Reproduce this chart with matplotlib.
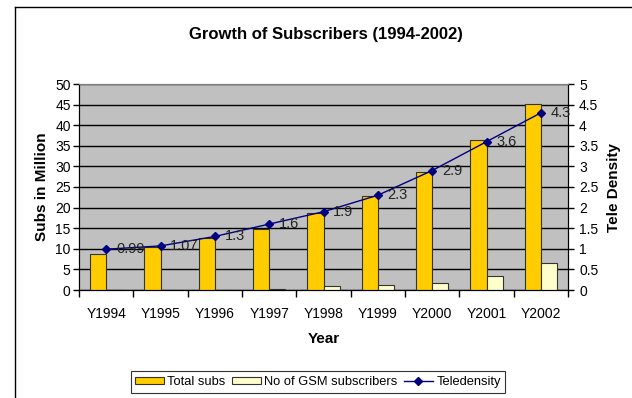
import numpy as np
import matplotlib.pyplot as plt
from matplotlib.lines import Line2D

plt.rcParams['font.family'] = ['Liberation Sans', 'DejaVu Sans']

years = ["Y1994", "Y1995", "Y1996", "Y1997", "Y1998", "Y1999", "Y2000", "Y2001", "Y2002"]
total_subs = [8.8, 10.4, 12.7, 14.9, 18.7, 22.9, 28.6, 36.3, 45.1]
gsm_subs = [0.0, 0.0, 0.0, 0.3, 0.9, 1.2, 1.8, 3.5, 6.5]
teledensity = [0.99, 1.07, 1.3, 1.6, 1.9, 2.3, 2.9, 3.6, 4.3]
tele_labels = ["0.99", "1.07", "1.3", "1.6", "1.9", "2.3", "2.9", "3.6", "4.3"]

fig = plt.figure(figsize=(6.32, 3.98), dpi=100)
ax = fig.add_axes([79/632, 1 - 290/398, (568-79)/632, (290-84)/398])
ax2 = ax.twinx()

x = np.arange(len(years))
w = 0.295
ax.set_facecolor("#C0C0C0")
ax.set_axisbelow(True)
ax.yaxis.grid(True, color="black", linewidth=1)
ax.bar(x, total_subs, width=-w, align="edge", color="#FFCC00", edgecolor="#333333",
       linewidth=0.8, label="Total subs", zorder=3)
ax.bar(x, gsm_subs, width=w, align="edge", color="#FFFFCC", edgecolor="#333333",
       linewidth=0.8, label="No of GSM subscribers", zorder=3)

ax2.plot(x, teledensity, color="#000080", marker="D", markersize=4.5, linewidth=1,
         label="Teledensity")
for xi, yi, lab in zip(x, teledensity, tele_labels):
    ax2.annotate(lab, (xi, yi), xytext=(7, 0), textcoords="offset points",
                 va="center", ha="left", fontsize=10.5, color="#222222")

ax.set_xlim(-0.5, len(years) - 0.5)
ax.set_ylim(0, 50)
ax2.set_ylim(0, 5)
ax.set_yticks(np.arange(0, 51, 5))
ax2.set_yticks(np.arange(0, 5.01, 0.5))
ax2.set_yticklabels(["0", "0.5", "1", "1.5", "2", "2.5", "3", "3.5", "4", "4.5", "5"])

ax.set_xticks(x)
ax.set_xticklabels(years, fontsize=10)
ax.tick_params(axis="x", length=0, pad=12)
ax.set_xticks(np.arange(-0.5, len(years), 1), minor=True)
ax.tick_params(axis="x", which="minor", length=5, width=1)
ax.tick_params(axis="y", labelsize=10, length=4, width=1, pad=2)
ax2.tick_params(axis="y", labelsize=10, length=4, width=1, pad=4)

for a in (ax, ax2):
    a.spines["top"].set_color("#808080")
    a.spines["left"].set_color("black")
    a.spines["right"].set_color("black")

ax.set_xlabel("Year", fontsize=11, fontweight="bold", labelpad=8)
ax.set_ylabel("Subs in Million", fontsize=11, fontweight="bold", labelpad=4)
ax2.set_ylabel("Tele Density", fontsize=11, fontweight="bold", labelpad=6)

fig.text(326/632, 1 - 35/398, "Growth of Subscribers (1994-2002)", ha="center",
         va="center", fontsize=12, fontweight="bold")

h1, l1 = ax.get_legend_handles_labels()
h2, l2 = ax2.get_legend_handles_labels()
leg = fig.legend(h1 + h2, l1 + l2, loc="center", bbox_to_anchor=(318/632, 1 - 382/398),
                 ncol=3, fontsize=9.3, frameon=True, fancybox=False, handlelength=2.2,
                 handleheight=0.55, handletextpad=0.3, columnspacing=0.5,
                 borderpad=0.35)
leg.get_frame().set_edgecolor("black")
leg.get_frame().set_linewidth(0.8)

# outer chart frame
fig.add_artist(Line2D([15/632, 1], [1 - 7/398, 1 - 7/398], color="black", linewidth=1))
fig.add_artist(Line2D([15/632, 15/632], [0, 1 - 7/398], color="black", linewidth=1))

fig.savefig("out.png", dpi=100)
